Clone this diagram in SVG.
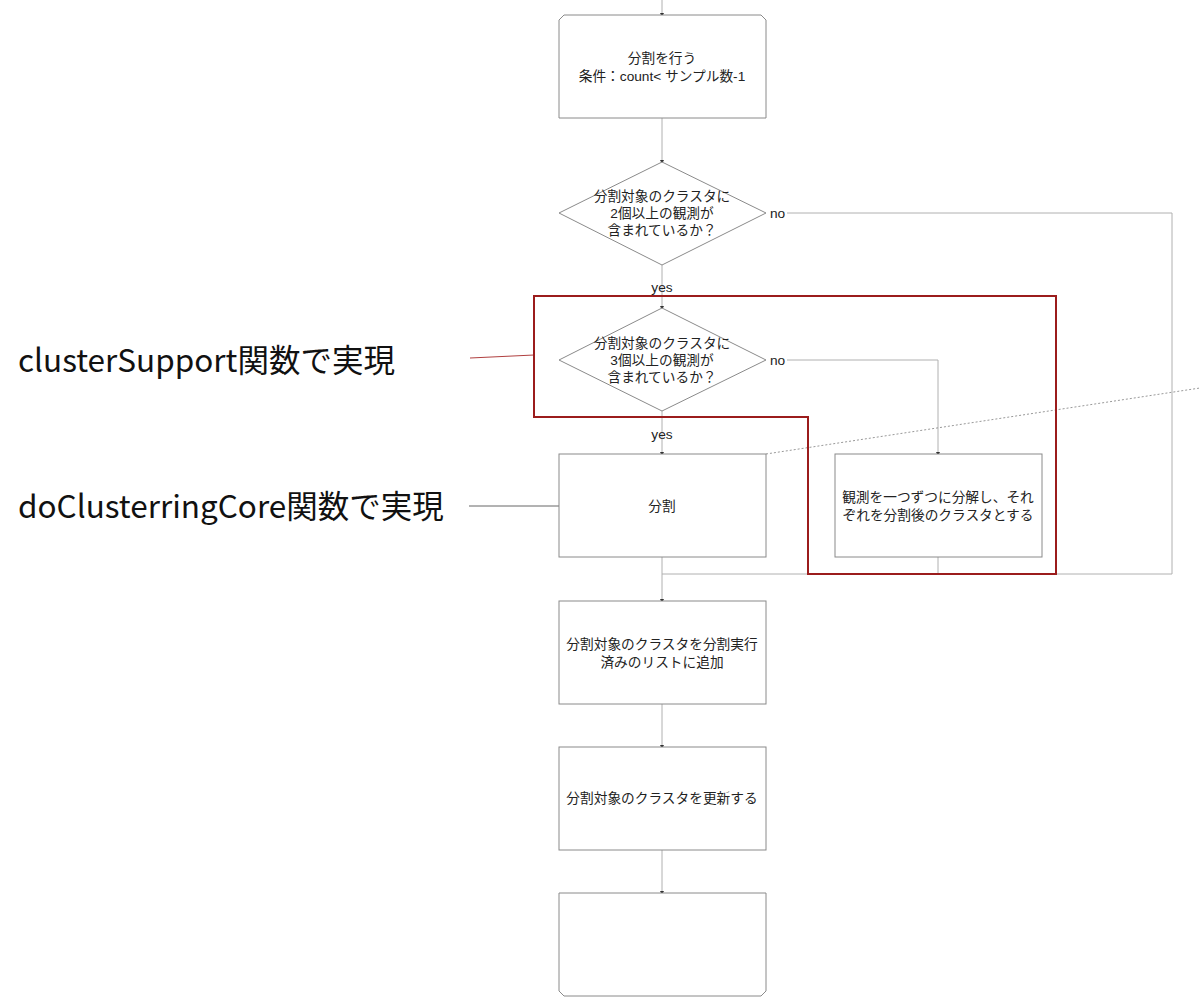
<svg xmlns="http://www.w3.org/2000/svg" width="1200" height="997" viewBox="0 0 1200 997">
<style>
.box{fill:#fff;stroke:#8a8a8a;stroke-width:1}
.t{font-family:"Liberation Sans","Noto Sans CJK JP",sans-serif;font-size:13.7px;fill:#222;text-anchor:middle}
.lbl{font-family:"Liberation Sans","Noto Sans CJK JP",sans-serif;font-size:13.7px;fill:#222}
.big{font-family:"Noto Sans CJK JP","Noto Sans",sans-serif;font-size:31.5px;fill:#111}
.c{fill:none;stroke:#b0b0b0;stroke-width:1}
</style>
<defs>
<marker id="a" markerWidth="4" markerHeight="4" refX="2" refY="2" orient="auto" markerUnits="userSpaceOnUse"><path d="M0,0 L4,2 L0,4 Z" fill="#333"/></marker>
</defs>
<rect width="1200" height="997" fill="#fff"/>
<g id="connectors">
<path class="c" d="M662,0 V15" marker-end="url(#a)"/>
<path class="c" d="M662,118 V162" marker-end="url(#a)"/>
<path class="c" d="M662,265 V308" marker-end="url(#a)"/>
<path class="c" d="M787,213 H1172 V574 H662"/>
<path class="c" d="M662,411 V454" marker-end="url(#a)"/>
<path class="c" d="M787,360 H938 V454" marker-end="url(#a)"/>
<path class="c" d="M938,557 V574"/>
<path class="c" d="M662,557 V601" marker-end="url(#a)"/>
<path class="c" d="M662,704 V747" marker-end="url(#a)"/>
<path class="c" d="M662,850 V893" marker-end="url(#a)"/>
<text class="lbl" x="770" y="218">no</text>
<text class="lbl" x="770" y="365">no</text>
<text class="t" x="662" y="292">yes</text>
<text class="t" x="662" y="439">yes</text>
<path d="M469,506 H559" fill="none" stroke="#666" stroke-width="1"/>
<path d="M470,358 L534,355" fill="none" stroke="#b04040" stroke-width="1"/>
<path d="M766,454 L1200,388" fill="none" stroke="#999" stroke-width="1" stroke-dasharray="2,2"/>
</g>
<g id="n1">
<path class="box" d="M564,15 H761 L766,20 V118 H559 V20 Z"/>
<text class="t" x="662" y="63">分割を行う</text>
<text class="t" x="662" y="81">条件：count&lt; サンプル数-1</text>
</g>
<g id="n2">
<path class="box" d="M662,162 L766,213 L662,265 L559,213 Z"/>
<text class="t" x="662" y="201">分割対象のクラスタに</text>
<text class="t" x="662" y="218">2個以上の観測が</text>
<text class="t" x="662" y="235">含まれているか？</text>
</g>
<g id="n3">
<path class="box" d="M662,308 L766,360 L662,411 L559,360 Z"/>
<text class="t" x="662" y="348">分割対象のクラスタに</text>
<text class="t" x="662" y="365">3個以上の観測が</text>
<text class="t" x="662" y="382">含まれているか？</text>
</g>
<g id="n4">
<rect class="box" x="559" y="454" width="207" height="103"/>
<text class="t" x="662" y="511">分割</text>
</g>
<g id="n5">
<rect class="box" x="835" y="454" width="207" height="103"/>
<text class="t" x="938" y="502">観測を一つずつに分解し、それ</text>
<text class="t" x="938" y="520">ぞれを分割後のクラスタとする</text>
</g>
<g id="n6">
<rect class="box" x="559" y="601" width="207" height="103"/>
<text class="t" x="662" y="649">分割対象のクラスタを分割実行</text>
<text class="t" x="662" y="667">済みのリストに追加</text>
</g>
<g id="n7">
<rect class="box" x="559" y="747" width="207" height="103"/>
<text class="t" x="662" y="803">分割対象のクラスタを更新する</text>
</g>
<g id="n8">
<path class="box" d="M559,893 H766 V991 L761,996 H564 L559,991 Z"/>
</g>
<g id="redframe">
<path d="M534,296 H1056 V574 H808 V417 H534 Z" fill="none" stroke="#9b1c1c" stroke-width="2"/>
</g>
<g id="labels">
<text class="big" x="18" y="372">clusterSupport関数で実現</text>
<text class="big" x="18" y="518">doClusterringCore関数で実現</text>
</g>
</svg>
